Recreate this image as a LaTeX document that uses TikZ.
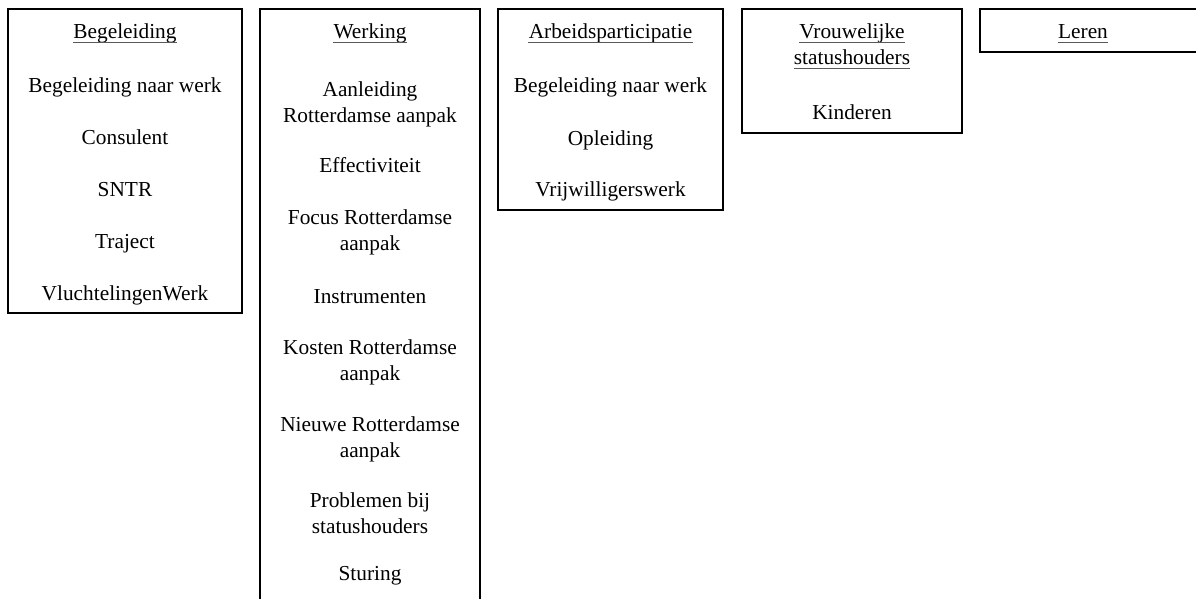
\documentclass[tikz,border=0pt]{standalone}
\usepackage{fontspec}
\setmainfont{Liberation Serif}
\begin{document}
\begin{tikzpicture}[x=0.75pt,y=-0.75pt,
  txt/.style={anchor=base,inner sep=0pt,align=center,font=\fontsize{16}{19.2}\selectfont},
  frame/.style={draw=black,line width=1.5pt},
  uline/.style={draw=black!65,line width=1.1pt}]
\useasboundingbox (0,0) rectangle (1196,599);
% boxes
\draw[frame] (8,9) rectangle (242,313);
\draw[frame] (260,9) rectangle (480,640);
\draw[frame] (498,9) rectangle (723,210);
\draw[frame] (742,9) rectangle (962,133);
\draw[frame] (980,9) rectangle (1230,52);
% column 1
\node[txt] (t1) at (125,38.5) {Begeleiding};
\node[txt] (a1) at (125,93) {Begeleiding naar werk};
\node[txt] (a2) at (125,145) {Consulent};
\node[txt] (a3) at (125,197) {SNTR};
\node[txt] (a4) at (125,248) {Traject};
\node[txt] (a5) at (125,300) {VluchtelingenWerk};
% column 2 (multi-line nodes are placed at the baseline of their last line)
\node[txt] (t2) at (370,38.5) {Werking};
\node[txt] (b1) at (370,122.5) {Aanleiding\\Rotterdamse aanpak};
\node[txt] (b2) at (370,173) {Effectiviteit};
\node[txt] (b3) at (370,250.5) {Focus Rotterdamse\\aanpak};
\node[txt] (b4) at (370,303) {Instrumenten};
\node[txt] (b5) at (370,380) {Kosten Rotterdamse\\aanpak};
\node[txt] (b6) at (370,457) {Nieuwe Rotterdamse\\aanpak};
\node[txt] (b7) at (370,533) {Problemen bij\\statushouders};
\node[txt] (b8) at (370,580) {Sturing};
% column 3
\node[txt] (t3) at (610.5,38.5) {Arbeidsparticipatie};
\node[txt] (c1) at (610.5,93) {Begeleiding naar werk};
\node[txt] (c2) at (610.5,145.5) {Opleiding};
\node[txt] (c3) at (610.5,197) {Vrijwilligerswerk};
% column 4
\node[txt] (t4a) at (852,38.5) {Vrouwelijke};
\node[txt] (t4b) at (852,64.5) {statushouders};
\node[txt] (d1) at (852,120) {Kinderen};
% column 5
\node[txt] (t5) at (1083,38.5) {Leren};
% underlines
\foreach \n in {t1,t2,t3,t4a,t4b,t5}
  \draw[uline] ([yshift=-3pt]\n.base west) -- ([yshift=-3pt]\n.base east);
\end{tikzpicture}
\end{document}
